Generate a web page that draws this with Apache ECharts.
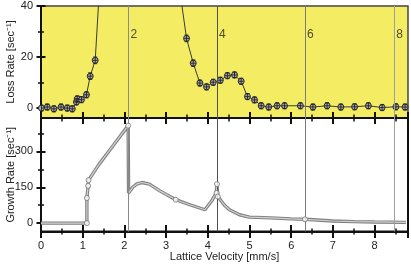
<!DOCTYPE html>
<html>
<head>
<meta charset="utf-8">
<script src="https://cdn.jsdelivr.net/npm/echarts@6/dist/echarts.min.js"></script>
<style>html,body{margin:0;padding:0;background:#fff;}#c{width:411px;height:264px;}</style>
</head>
<body>
<div id="c"></div>
<script>
// ---- data ----
const lossX = [0.01, 0.15, 0.31, 0.48, 0.63, 0.75, 0.85, 0.87, 0.97, 1.09, 1.18, 1.30, 1.42, 3.34, 3.49, 3.65, 3.81, 3.97, 4.13, 4.30, 4.47, 4.64, 4.80, 4.95, 5.12, 5.28, 5.46, 5.66, 5.84, 6.22, 6.52, 6.86, 7.19, 7.52, 7.85, 8.18, 8.51, 8.73];
const lossY = [0.0, 0.4, -0.3, 0.4, 0.0, -0.3, 2.4, 3.6, 3.3, 5.2, 12.5, 18.7, 52, 44.6, 27.3, 17.6, 9.8, 8.3, 10.1, 10.9, 12.7, 13.0, 10.5, 4.5, 3.2, 0.9, 0.4, 0.9, 0.9, 0.9, 0.4, 0.9, 0.4, 0.5, 0.9, 0.2, 0.5, 0.4];
const lossErr = [1.2, 1.2, 1.2, 1.2, 1.2, 1.2, 1.2, 1.2, 1.2, 1.2, 1.3, 1.3, null, null, 1.3, 1.3, 1.2, 1.2, 1.2, 1.2, 1.2, 1.2, 1.2, 1.2, 1.2, 1.2, 1.2, 1.2, 1.2, 1.2, 1.2, 1.2, 1.2, 1.2, 1.2, 1.2, 1.2, 1.2];

const growthX = [0, 1.10, 1.10, 1.13, 1.14, 1.40, 1.70, 2.09, 2.10, 2.20, 2.30, 2.42, 2.60, 2.85, 3.23, 3.57, 3.93, 4.10, 4.20, 4.22, 4.24, 4.29, 4.40, 4.52, 4.76, 5.00, 5.50, 6.00, 6.33, 7.00, 7.50, 8.00, 8.75];
const growthY = [0, 0, 105, 156, 180, 248, 318, 408, 126, 150, 164, 170, 163, 135, 98, 77, 56, 95, 126, 163, 111, 100, 75, 56, 35, 25, 22, 18, 16, 9, 6.5, 5, 3];
const growthMarkX = [1.10, 1.10, 1.13, 1.14, 2.09, 3.23, 4.22, 4.21, 4.24, 6.33];
const growthMarkY = [0, 105, 156, 180, 408, 98, 163, 126, 111, 16];

const resonanceX = [2.10, 4.22, 6.33, 8.47];
const resonanceLabels = ['2', '4', '6', '8'];

const lossTicks = [0, 20, 40];
const lossMinorTicks = [10, 30];
const growthTicks = [0, 150, 300];
const growthMinorTicks = [75, 225, 375];

// ---- styling / layout ----
const FONT = 'Liberation Sans, Arial, sans-serif';
const resonanceColors = ['#8a8a8a', '#505050', '#7a7a7a', '#a0a0a0'];
const labelYValue = 28.7;

const lossData = lossX.map((x, i) => [x, lossY[i]]);
const errData = [];
lossX.forEach((x, i) => { if (lossErr[i] != null) errData.push([x, lossY[i], lossErr[i]]); });
const growthData = growthX.map((x, i) => [x, growthY[i]]);
const growthMarks = growthMarkX.map((x, i) => [x, growthMarkY[i]]);
const resLabelData = resonanceX.map((x, i) => ({ value: [x, labelYValue], name: resonanceLabels[i] }));
const vLines = resonanceX.map((x, i) => ({ xAxis: x, lineStyle: { color: resonanceColors[i], width: 1, type: 'solid' } }));

const X_MIN = 0, X_MAX = 8.8;
const hiddenLine = { show: true, onZero: false, lineStyle: { color: 'rgba(0,0,0,0)', width: 0 } };
function tickAxis(grid, offset, len, interval, width) {
  return {
    type: 'value', gridIndex: grid, min: X_MIN, max: X_MAX, interval: interval, position: 'bottom',
    offset: offset, axisLine: hiddenLine, axisLabel: { show: false }, splitLine: { show: false },
    axisTick: { show: true, length: len, lineStyle: { color: '#111', width: width } }
  };
}
function yTickAxis(grid, min, max, offset, len, values, width) {
  return {
    type: 'value', gridIndex: grid, min: min, max: max, position: 'left', offset: offset,
    axisLine: hiddenLine, axisLabel: { show: false }, splitLine: { show: false },
    axisTick: { show: true, length: len, customValues: values, lineStyle: { color: '#111', width: width } }
  };
}
function carrier(xi, yi) { return { type: 'line', xAxisIndex: xi, yAxisIndex: yi, data: [], silent: true, symbol: 'none' }; }

const chart = echarts.init(document.getElementById('c'), null, { renderer: 'canvas' });
chart.setOption({
  animation: false,
  textStyle: { fontFamily: FONT },
  grid: [
    { left: 41, right: 3, top: 6, height: 112, show: true, backgroundColor: '#f4ec62', borderColor: '#444', borderWidth: 1.5,
      outerBoundsMode: 'none', containLabel: false },
    { left: 41, right: 3, top: 118, height: 113.5, show: true, backgroundColor: 'transparent', borderColor: '#111', borderWidth: 2,
      outerBoundsMode: 'none', containLabel: false }
  ],
  xAxis: [
    { type: 'value', gridIndex: 0, min: X_MIN, max: X_MAX, interval: 1, position: 'bottom',
      axisLine: { show: true, onZero: false, lineStyle: { color: '#111', width: 2 } }, axisTick: { show: false },
      axisLabel: { show: false }, splitLine: { show: false } },
    tickAxis(0, -6, 12, 1, 2),
    tickAxis(0, -3.5, 7, 0.5, 1.5),
    { type: 'value', gridIndex: 1, min: X_MIN, max: X_MAX, interval: 1, position: 'bottom',
      axisLine: { show: true, onZero: false, lineStyle: { color: '#111', width: 2 } }, axisTick: { show: false },
      axisLabel: { show: true, margin: 9, fontSize: 11, color: '#222', fontFamily: FONT, showMaxLabel: false },
      splitLine: { show: false },
      name: 'Lattice Velocity [mm/s]', nameLocation: 'middle', nameGap: 20, nameMoveOverlap: false,
      nameTextStyle: { fontSize: 11, color: '#222', fontFamily: FONT } },
    tickAxis(1, -6.5, 13, 1, 2),
    tickAxis(1, -3, 6, 0.5, 1.5)
  ],
  yAxis: [
    { type: 'value', gridIndex: 0, min: -3.9, max: 40, position: 'left',
      axisLine: { show: true, onZero: false, lineStyle: { color: '#111', width: 2 } }, axisTick: { show: false },
      axisLabel: { show: true, customValues: lossTicks, margin: 8, fontSize: 11, color: '#222', fontFamily: FONT },
      splitLine: { show: false },
      name: 'Loss Rate [sec\u207B\u00B9]', nameLocation: 'middle', nameGap: 25, nameMoveOverlap: false,
      nameTextStyle: { fontSize: 11, color: '#222', fontFamily: FONT } },
    yTickAxis(0, -3.9, 40, -4.5, 9, lossTicks, 2),
    yTickAxis(0, -3.9, 40, -3, 6, lossMinorTicks, 1.5),
    { type: 'value', gridIndex: 1, min: -35, max: 440, position: 'left',
      axisLine: { show: true, onZero: false, lineStyle: { color: '#111', width: 2 } }, axisTick: { show: false },
      axisLabel: { show: true, customValues: growthTicks, margin: 8, fontSize: 11, color: '#222', fontFamily: FONT },
      splitLine: { show: false },
      name: 'Growth Rate [sec\u207B\u00B9]', nameLocation: 'middle', nameGap: 25, nameMoveOverlap: false,
      nameTextStyle: { fontSize: 11, color: '#222', fontFamily: FONT } },
    yTickAxis(1, -35, 440, -4.5, 9, growthTicks, 2),
    yTickAxis(1, -35, 440, -3, 6, growthMinorTicks, 1.5)
  ],
  series: [
    carrier(1, 1), carrier(2, 2), carrier(4, 4), carrier(5, 5),
    { type: 'line', xAxisIndex: 0, yAxisIndex: 0, data: [], silent: true,
      markLine: { silent: true, symbol: 'none', label: { show: false }, data: vLines, animation: false } },
    { type: 'line', xAxisIndex: 0, yAxisIndex: 0, data: lossData, clip: true, z: 3,
      lineStyle: { color: '#3a3a3a', width: 1 },
      symbol: 'circle', symbolSize: 6, showAllSymbol: true,
      itemStyle: { color: '#a8a8a8', borderColor: '#2a2a2a', borderWidth: 1 } },
    { type: 'custom', xAxisIndex: 0, yAxisIndex: 0, data: errData, clip: true, z: 4,
      renderItem: function (params, api) {
        const x = api.value(0), y = api.value(1), e = api.value(2);
        const t = api.coord([x, y + e]), b = api.coord([x, y - e]), c = api.coord([x, y]);
        const st = { stroke: '#222', lineWidth: 0.9 };
        return { type: 'group', children: [
          { type: 'line', shape: { x1: c[0], y1: t[1], x2: c[0], y2: b[1] }, style: st },
          { type: 'line', shape: { x1: c[0] - 2, y1: t[1], x2: c[0] + 2, y2: t[1] }, style: st },
          { type: 'line', shape: { x1: c[0] - 2, y1: b[1], x2: c[0] + 2, y2: b[1] }, style: st },
          { type: 'line', shape: { x1: c[0] - 2.5, y1: c[1], x2: c[0] + 2.5, y2: c[1] }, style: st }
        ] };
      } },
    { type: 'scatter', xAxisIndex: 0, yAxisIndex: 0, data: resLabelData, symbolSize: 0, silent: true,
      label: { show: true, position: 'right', distance: 2, formatter: '{b}', fontSize: 12, color: '#222', fontFamily: FONT } },
    { type: 'line', xAxisIndex: 3, yAxisIndex: 3, data: growthData, symbol: 'none', z: 3,
      lineStyle: { color: '#808080', width: 3.4 },
      markLine: { silent: true, symbol: 'none', label: { show: false }, data: vLines, animation: false } },
    { type: 'line', xAxisIndex: 3, yAxisIndex: 3, data: growthData, symbol: 'none', z: 4,
      lineStyle: { color: '#d2d2d2', width: 1.2 } },
    { type: 'scatter', xAxisIndex: 3, yAxisIndex: 3, data: growthMarks, symbol: 'circle', symbolSize: 5, z: 5,
      itemStyle: { color: '#ffffff', borderColor: '#777', borderWidth: 1 } }
  ]
});
</script>
</body>
</html>
